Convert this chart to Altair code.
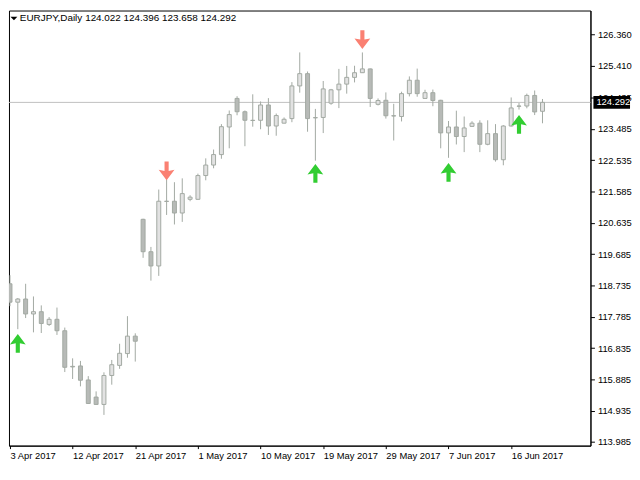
import altair as alt
import pandas as pd

# ---------------- data ----------------
symbol_title = "EURJPY,Daily"
ohlc_text = "124.022 124.396 123.658 124.292"

opens = [118.786, 118.228, 118.324, 117.870, 117.939, 117.552, 117.708, 117.361, 116.280, 116.292,
         115.867, 115.347, 115.124, 116.003, 116.309, 116.668, 117.197, 120.743, 119.760, 119.327,
         121.292, 121.292, 120.934, 121.350, 121.350, 122.072, 122.390, 122.708, 123.546, 124.413,
         124.009, 123.749, 123.749, 124.214, 123.575, 123.662, 123.801, 124.792, 125.165, 123.830,
         123.835, 124.269, 124.674, 124.847, 125.052, 125.194, 125.309, 124.234, 124.356, 123.887,
         123.864, 124.558, 124.965, 124.413, 124.587, 124.356, 123.367, 123.546, 123.257, 123.564,
         123.662, 123.020, 123.344, 122.552, 123.575, 124.182, 124.182, 124.503, 124.022]
highs = [119.046, 118.353, 118.786, 118.402, 118.130, 117.775, 118.064, 117.457, 116.523, 116.445,
         115.983, 115.520, 116.098, 116.474, 116.965, 117.804, 117.283, 120.760, 119.905, 121.647,
         121.957, 121.870, 121.986, 121.474, 122.130, 122.593, 122.861, 123.633, 124.046, 124.480,
         124.046, 124.538, 124.321, 124.422, 123.954, 123.835, 124.908, 125.809, 125.231, 124.095,
         124.942, 124.702, 125.309, 125.399, 125.405, 125.809, 125.320, 124.413, 124.595, 124.249,
         124.616, 125.081, 125.318, 124.676, 124.682, 124.370, 123.728, 124.041, 123.864, 123.720,
         123.749, 123.749, 123.633, 123.600, 124.442, 124.272, 124.558, 124.653, 124.396]
lows = [118.107, 117.408, 117.746, 117.312, 117.292, 117.506, 117.234, 116.107, 115.896, 115.673,
        115.140, 115.110, 114.806, 115.723, 116.205, 116.541, 116.425, 119.575, 118.882, 119.026,
        120.876, 120.587, 120.665, 121.292, 121.340, 121.928, 122.292, 122.581, 122.899, 123.902,
        122.962, 123.555, 123.477, 123.304, 123.280, 123.656, 123.691, 124.587, 123.402, 122.523,
        123.361, 124.220, 124.119, 124.558, 124.899, 125.188, 124.153, 124.200, 123.801, 123.136,
        123.714, 124.474, 124.465, 124.408, 124.176, 122.899, 122.610, 123.015, 122.783, 123.546,
        122.783, 122.991, 122.494, 122.384, 123.560, 124.075, 124.113, 123.908, 123.658]
closes = [118.228, 118.324, 117.870, 117.939, 117.581, 117.708, 117.361, 116.251, 116.263, 115.858,
          115.153, 115.124, 116.003, 116.330, 116.676, 117.197, 117.043, 119.760, 119.327, 121.292,
          121.286, 120.934, 121.523, 121.416, 122.072, 122.390, 122.708, 123.555, 123.922, 124.009,
          123.749, 123.743, 124.214, 123.575, 123.893, 123.780, 124.792, 125.165, 123.801, 123.824,
          124.702, 124.674, 124.847, 125.052, 125.194, 125.309, 124.413, 124.350, 123.887, 123.879,
          124.558, 124.965, 124.558, 124.587, 124.350, 123.367, 123.546, 123.257, 123.517, 123.662,
          123.020, 123.344, 122.552, 123.575, 124.124, 124.176, 124.503, 124.003, 124.292]

date_ticks = [0, 8, 16, 24, 32, 40, 48, 56, 64]
date_labels = ["3 Apr 2017", "12 Apr 2017", "21 Apr 2017", "1 May 2017", "10 May 2017",
               "19 May 2017", "29 May 2017", "7 Jun 2017", "16 Jun 2017"]
price_ticks = [126.360, 125.410, 124.435, 123.485, 122.535, 121.585, 120.635,
               119.685, 118.735, 117.785, 116.835, 115.885, 114.935, 113.985]

up_bars = [1, 39, 56, 65]
up_prices = [116.980, 122.139, 122.168, 123.627]
down_bars = [20, 45]
down_prices = [122.211, 126.200]
last_price = 124.292

# ---------------- styling ----------------
W, H = 588, 440
FONT = "Liberation Sans"
FS = 9.5
OUTLINE = "#A2A9A2"
BULL = "#E2E2E2"
BEAR = "#B7BAB7"
UP_COL = "#32CD32"
DOWN_COL = "#FA8072"

n = len(opens)
df = pd.DataFrame({
    "i": list(range(n)),
    "open": opens, "high": highs, "low": lows, "close": closes,
})
df["dir"] = ["bull" if c >= o else "bear" for o, c in zip(opens, closes)]

up_df = pd.DataFrame({"i": up_bars, "p": up_prices})
down_df = pd.DataFrame({"i": down_bars, "p": down_prices})

label_array = "[" + ",".join("'" + s + "'" for s in date_labels) + "]"

x_scale = alt.Scale(domain=[-0.125, 74.125], nice=False, zero=False, padding=0)
y_scale = alt.Scale(domain=[113.873, 127.081], nice=False, zero=False, padding=0)

x_axis = alt.Axis(values=date_ticks, labelExpr=label_array + "[round(datum.value/8)]",
                  title=None, grid=False, labelAlign="left", tickSize=3, labelPadding=2,
                  labelFlush=False, labelOverlap=False, labelBound=False)
y_axis = alt.Axis(orient="right", values=price_ticks, format=".3f", title=None, grid=False,
                  tickSize=4, labelPadding=3, labelOverlap=False, labelFlush=False)


def X():
    return alt.X("i:Q", scale=x_scale, axis=x_axis)


def Y(field):
    return alt.Y(field, type="quantitative", scale=y_scale, axis=y_axis)


price_line = alt.Chart(pd.DataFrame({"p": [last_price]})).mark_rule(
    color="#C0C0C0", strokeWidth=1).encode(y=Y("p"))

wicks = alt.Chart(df).mark_rule(color=OUTLINE, strokeWidth=1, clip=True).encode(
    x=X(), y=Y("low"), y2="high")

bodies = alt.Chart(df).mark_bar(width=4, stroke=OUTLINE, strokeWidth=1, clip=True).encode(
    x=X(), y=Y("open"), y2="close",
    fill=alt.Fill("dir:N", scale=alt.Scale(domain=["bull", "bear"], range=[BULL, BEAR]), legend=None))

UP_PATH = "M0,-1 L0.84,0.12 L0.22,0.0 L0.22,1 L-0.22,1 L-0.22,0.0 L-0.84,0.12 Z"
DOWN_PATH = "M0,1 L0.84,-0.12 L0.22,0.0 L0.22,-1 L-0.22,-1 L-0.22,0.0 L-0.84,-0.12 Z"

up_arrows = alt.Chart(up_df).mark_point(shape=UP_PATH, filled=True, size=361, color=UP_COL,
                                         opacity=1, strokeWidth=0).encode(x=X(), y=Y("p"))
down_arrows = alt.Chart(down_df).mark_point(shape=DOWN_PATH, filled=True, size=361, color=DOWN_COL,
                                             opacity=1, strokeWidth=0).encode(x=X(), y=Y("p"))

tag_df = pd.DataFrame({"p": [last_price], "t": [f"{last_price:.3f}"]})
price_tag = alt.Chart(tag_df).mark_point(
    shape="M-1,-0.35 L1,-0.35 L1,0.35 L-1,0.35 Z", filled=True, size=1369,
    color="black", opacity=1, strokeWidth=0).encode(x=alt.value(W + 21.5), y=Y("p"))
price_tag_text = alt.Chart(tag_df).mark_text(
    align="left", baseline="middle", color="white", font=FONT, fontSize=FS).encode(
    x=alt.value(W + 6), y=Y("p"), text="t:N")

head_df = pd.DataFrame({"s": [symbol_title], "o": [ohlc_text]})
head_tri = alt.Chart(head_df).mark_point(
    shape="M-1,-0.5 L1,-0.5 L0,0.5 Z", filled=True, size=49, color="black",
    opacity=1, strokeWidth=0).encode(x=alt.value(5), y=alt.value(8))
head_sym = alt.Chart(head_df).mark_text(
    align="left", baseline="middle", color="black", font=FONT, fontSize=10).encode(
    x=alt.value(11), y=alt.value(8), text="s:N")
head_ohlc = alt.Chart(head_df).mark_text(
    align="left", baseline="middle", color="black", font=FONT, fontSize=10).encode(
    x=alt.value(77), y=alt.value(8), text="o:N")

chart = alt.layer(
    price_line, wicks, bodies, up_arrows, down_arrows,
    price_tag, price_tag_text, head_tri, head_sym, head_ohlc
).properties(
    width=W, height=H, background="white",
    padding={"left": 0, "top": 0, "right": 0, "bottom": 0}
).configure_view(
    stroke="black", strokeWidth=1
).configure_axis(
    domainColor="black", tickColor="black", labelColor="black",
    labelFont=FONT, labelFontSize=FS, domainWidth=1, tickWidth=1
)

chart.save("out.html", embed_options={"renderer": "svg", "actions": False})
